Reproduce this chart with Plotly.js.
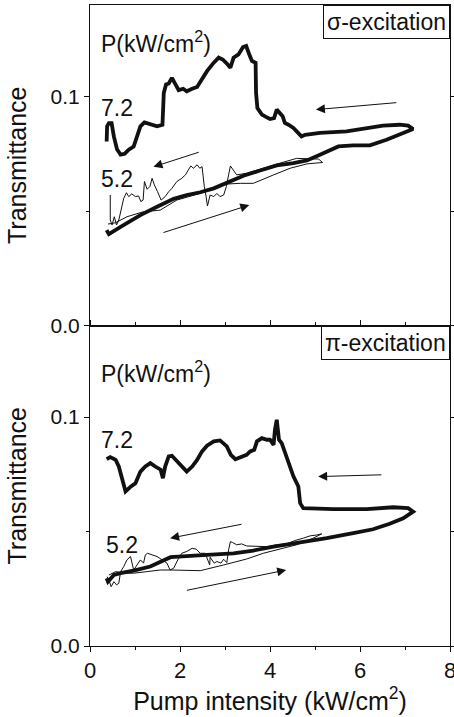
<!DOCTYPE html>
<html><head><meta charset="utf-8">
<script src="https://cdn.plot.ly/plotly-3.0.1.min.js"></script>
<style>html,body{margin:0;padding:0;background:#fff;}#chart{width:454px;height:717px;}</style>
</head><body><div id="chart"></div>
<script>
// sigma-excitation, P = 7.2 kW/cm2 (thick loop)
const sigma72X = [0.37,0.42,0.68,1.12,1.49,1.86,2.15,2.45,2.75,3.04,3.41,3.78,4.15,4.52,4.82,5.11,5.52,5.85,6.22,6.59,6.96,7.18,
  7.07,6.88,6.51,5.98,5.70,5.11,4.78,4.70,4.63,4.52,4.41,4.33,4.28,4.21,4.15,4.09,4.00,3.91,3.82,3.72,3.69,3.68,3.60,3.54,3.47,3.40,3.30,3.19,3.12,3.06,2.95,2.86,2.75,2.60,2.49,2.38,2.27,2.15,2.07,1.97,1.90,1.82,1.75,1.69,1.64,1.61,1.49,1.34,1.21,1.12,1.05,0.97,0.86,0.77,0.68,0.60,0.53,0.48,0.42,0.38,0.37];
const sigma72Y = [0.0417,0.0399,0.0431,0.0482,0.0519,0.0553,0.0570,0.0582,0.0599,0.0624,0.0654,0.0677,0.0699,0.0709,0.0721,0.0746,0.0782,0.0787,0.0787,0.0811,0.0841,0.0858,
  0.0873,0.0877,0.0873,0.0855,0.0848,0.0841,0.0833,0.0826,0.0841,0.0863,0.0877,0.0885,0.0914,0.0928,0.0943,0.0906,0.0902,0.0911,0.0921,0.0950,0.1016,0.1148,0.1155,0.1184,0.1221,0.1216,0.1184,0.1170,0.1126,0.1140,0.1162,0.1170,0.1148,0.1111,0.1075,0.1042,0.1034,0.1023,0.1034,0.1028,0.1053,0.1082,0.1057,0.1053,0.1016,0.0877,0.0870,0.0877,0.0887,0.0870,0.0826,0.0782,0.0768,0.0750,0.0746,0.0770,0.0826,0.0884,0.0884,0.0870,0.0804];
// sigma-excitation, P = 5.2 kW/cm2 (thin loop)
const sigma52X = [0.40,0.57,0.82,1.19,1.56,1.93,2.45,3.04,3.34,3.63,4.08,4.45,4.82,5.17,5.08,4.59,4.22,3.85,3.48,3.26,3.19,3.12,3.08,3.03,2.97,2.89,2.82,2.75,2.67,2.61,2.58,2.54,2.49,2.44,2.38,2.30,2.24,2.19,2.12,2.04,1.93,1.82,1.75,1.67,1.58,1.50,1.43,1.38,1.33,1.27,1.21,1.18,1.13,1.08,1.01,0.93,0.86,0.81,0.75,0.69,0.64,0.59,0.54,0.49,0.45,0.45];
const sigma52Y = [0.0443,0.0449,0.0475,0.0497,0.0504,0.0548,0.0577,0.0618,0.0621,0.0621,0.0658,0.0687,0.0706,0.0712,0.0727,0.0730,0.0709,0.0687,0.0665,0.0658,0.0680,0.0697,0.0658,0.0607,0.0570,0.0563,0.0577,0.0563,0.0570,0.0522,0.0563,0.0607,0.0694,0.0687,0.0702,0.0687,0.0697,0.0680,0.0658,0.0643,0.0629,0.0599,0.0585,0.0563,0.0548,0.0585,0.0614,0.0643,0.0607,0.0595,0.0629,0.0548,0.0541,0.0566,0.0563,0.0575,0.0563,0.0580,0.0556,0.0504,0.0461,0.0439,0.0475,0.0439,0.0461,0.0570];
// pi-excitation, P = 7.2 kW/cm2 (thick loop)
const pi72X = [0.37,0.40,0.53,0.68,0.97,1.34,1.79,2.15,2.60,3.19,3.63,4.08,4.67,5.26,5.85,6.29,6.66,6.96,7.18,
  7.07,6.74,6.15,5.41,4.74,4.67,4.63,4.52,4.41,4.30,4.26,4.20,4.18,4.15,4.11,4.08,4.00,3.93,3.82,3.71,3.65,3.56,3.48,3.37,3.23,3.13,3.04,2.89,2.75,2.60,2.49,2.38,2.27,2.15,2.04,1.93,1.82,1.75,1.67,1.62,1.57,1.45,1.34,1.23,1.12,1.01,0.91,0.79,0.71,0.64,0.57,0.45,0.37];
const pi72Y = [0.0296,0.0281,0.0310,0.0318,0.0329,0.0347,0.0388,0.0391,0.0398,0.0405,0.0417,0.0434,0.0452,0.0471,0.0493,0.0510,0.0534,0.0558,0.0587,
  0.0602,0.0606,0.0598,0.0598,0.0602,0.0624,0.0697,0.0741,0.0799,0.0857,0.0886,0.0901,0.0959,0.0988,0.0945,0.0879,0.0901,0.0901,0.0908,0.0894,0.0857,0.0850,0.0835,0.0828,0.0816,0.0835,0.0872,0.0898,0.0894,0.0875,0.0850,0.0813,0.0784,0.0762,0.0784,0.0806,0.0831,0.0828,0.0784,0.0733,0.0770,0.0784,0.0799,0.0784,0.0762,0.0711,0.0697,0.0675,0.0726,0.0784,0.0813,0.0825,0.0816];
// pi-excitation, P = 5.2 kW/cm2 (thin loop)
const pi52X = [0.42,0.57,0.75,0.97,1.27,1.56,1.82,2.15,2.45,2.97,3.48,3.85,4.22,4.59,4.96,5.15,5.04,4.89,4.74,4.56,4.37,4.15,3.93,3.71,3.48,3.37,3.26,3.17,3.12,3.08,3.04,2.97,2.91,2.82,2.76,2.71,2.67,2.66,2.56,2.45,2.36,2.27,2.15,2.04,1.95,1.86,1.78,1.71,1.60,1.49,1.38,1.28,1.23,1.19,1.12,1.05,0.97,0.90,0.82,0.75,0.68,0.64,0.59,0.53,0.47,0.42,0.38];
const pi52Y = [0.0310,0.0325,0.0318,0.0318,0.0325,0.0332,0.0332,0.0329,0.0329,0.0354,0.0380,0.0405,0.0423,0.0442,0.0471,0.0490,0.0485,0.0481,0.0471,0.0461,0.0446,0.0442,0.0434,0.0434,0.0437,0.0446,0.0442,0.0452,0.0456,0.0420,0.0364,0.0379,0.0362,0.0369,0.0362,0.0376,0.0388,0.0354,0.0405,0.0405,0.0423,0.0427,0.0413,0.0405,0.0376,0.0340,0.0332,0.0362,0.0376,0.0391,0.0398,0.0405,0.0398,0.0362,0.0376,0.0354,0.0332,0.0391,0.0376,0.0347,0.0325,0.0274,0.0267,0.0281,0.0259,0.0289,0.0303];

// direction arrows: tail -> head
const sigmaArrowTailX = [6.84, 2.45, 1.60];
const sigmaArrowTailY = [0.0974, 0.0759, 0.0404];
const sigmaArrowHeadX = [5.02, 1.41, 3.54];
const sigmaArrowHeadY = [0.0943, 0.0693, 0.0526];
const piArrowTailX = [6.51, 3.40, 2.12];
const piArrowTailY = [0.0748, 0.0533, 0.0242];
const piArrowHeadX = [5.07, 1.78, 4.36];
const piArrowHeadY = [0.0740, 0.0471, 0.0332];

const panelLabels = ['\u03c3-excitation', '\u03c0-excitation'];
const powerLabels = ['7.2', '5.2'];
const xTitle = 'Pump intensity (kW/cm<sup>2</sup>)';
const yTitle = 'Transmittance';
const unitLabel = 'P(kW/cm<sup>2</sup>)';

const FONT = '"Liberation Sans", Arial, Helvetica, sans-serif';
const ink = '#111';

function line(x, y, w, xa, ya) {
  return {x: x, y: y, type: 'scatter', mode: 'lines', xaxis: xa, yaxis: ya,
    line: {color: ink, width: w}, hoverinfo: 'skip'};
}
const data = [
  line(sigma52X, sigma52Y, 1, 'x', 'y'),
  line(sigma72X, sigma72Y, 3.8, 'x', 'y'),
  line(pi52X, pi52Y, 1, 'x2', 'y2'),
  line(pi72X, pi72Y, 3.8, 'x2', 'y2')
];

const ann = [];
function arrows(tx, ty, hx, hy, xr, yr) {
  for (let i = 0; i < tx.length; i++) {
    ann.push({x: hx[i], y: hy[i], ax: tx[i], ay: ty[i], xref: xr, yref: yr, axref: xr, ayref: yr,
      showarrow: true, arrowhead: 2, arrowsize: 1.8, arrowwidth: 1, arrowcolor: ink, text: ''});
  }
}
arrows(sigmaArrowTailX, sigmaArrowTailY, sigmaArrowHeadX, sigmaArrowHeadY, 'x', 'y');
arrows(piArrowTailX, piArrowTailY, piArrowHeadX, piArrowHeadY, 'x2', 'y2');

function txt(t, x, y, xr, yr, size) {
  ann.push({text: t, x: x, y: y, xref: xr, yref: yr, xanchor: 'left', yanchor: 'middle',
    showarrow: false, font: {family: FONT, size: size, color: ink}});
}
txt(unitLabel, 0.2, 0.1237, 'x', 'y', 23);
txt(powerLabels[0], 0.2, 0.0950, 'x', 'y', 23);
txt(powerLabels[1], 0.2, 0.0638, 'x', 'y', 23);
txt(unitLabel, 0.2, 0.1196, 'x2', 'y2', 23);
txt(powerLabels[0], 0.2, 0.0899, 'x2', 'y2', 23);
txt(powerLabels[1], 0.31, 0.0442, 'x2', 'y2', 23);

function box(t, xr, yr) {
  ann.push({text: t, x: 1, y: 1, xref: xr, yref: yr, xanchor: 'right', yanchor: 'top',
    showarrow: false, bgcolor: '#fff', bordercolor: ink, borderwidth: 1, borderpad: 3,
    font: {family: FONT, size: 23, color: ink}});
}
box(panelLabels[0], 'x domain', 'y domain');
box(panelLabels[1], 'x2 domain', 'y2 domain');

const yBase = {
  range: [0, 0.14], tick0: 0, dtick: 0.1, tickformat: '.1f',
  ticks: 'outside', ticklen: 5, tickwidth: 1, tickcolor: ink,
  minor: {dtick: 0.05, tick0: 0, ticks: 'outside', ticklen: 3, tickcolor: ink},
  showline: true, linecolor: ink, linewidth: 1, mirror: 'ticks',
  showgrid: false, zeroline: false,
  tickfont: {family: FONT, size: 21, color: ink},
  title: {text: yTitle, font: {family: FONT, size: 25, color: ink}, standoff: 16}
};

const layout = {
  width: 454, height: 717,
  margin: {l: 90, r: 4, t: 5, b: 71},
  paper_bgcolor: '#fff', plot_bgcolor: '#fff',
  showlegend: false,
  font: {family: FONT, color: ink},
  xaxis: {domain: [0, 1], anchor: 'y', range: [0, 8], showline: true, linecolor: ink, linewidth: 1,
    mirror: true, ticks: '', showticklabels: false, showgrid: false, zeroline: false},
  yaxis: Object.assign({}, yBase, {domain: [0.5, 1], anchor: 'x'}),
  xaxis2: {domain: [0, 1], anchor: 'y2', range: [0, 8], tick0: 0, dtick: 2,
    ticks: 'outside', ticklen: 5, tickwidth: 1, tickcolor: ink, ticklabeloverflow: 'allow',
    minor: {dtick: 1, tick0: 0, ticks: 'outside', ticklen: 3, tickcolor: ink},
    showline: true, linecolor: ink, linewidth: 1, mirror: 'ticks', showgrid: false, zeroline: false,
    tickfont: {family: FONT, size: 22, color: ink},
    title: {text: xTitle, font: {family: FONT, size: 25, color: ink}, standoff: 9}},
  yaxis2: Object.assign({}, yBase, {domain: [0, 0.5], anchor: 'x2'}),
  annotations: ann
};

Plotly.newPlot('chart', data, layout, {displayModeBar: false, staticPlot: true});
</script></body></html>
